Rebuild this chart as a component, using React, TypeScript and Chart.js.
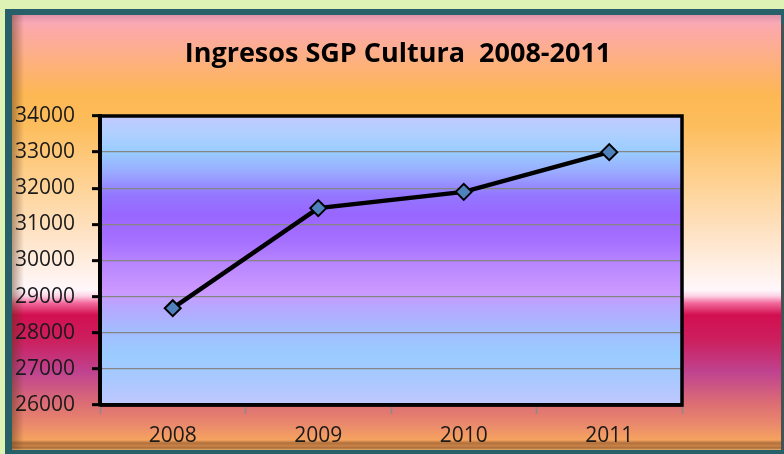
import React, { useEffect, useRef } from "react";
import { Chart, registerables } from "chart.js";

Chart.register(...registerables);

const TITLE = "Ingresos SGP Cultura  2008-2011";
const categories = ["2008", "2009", "2010", "2011"];
const ingresos = [28680, 31450, 31900, 33000];
const yMin = 26000;
const yMax = 34000;
const yStep = 1000;

const outerStops: [number, string][] = [
  [15, "#f7a9c4"], [30, "#fca9a8"], [60, "#fdb080"], [95, "#fdb853"],
  [125, "#fdbd5c"], [190, "#fed49a"], [235, "#fee3c6"], [275, "#fff2ec"],
  [290, "#fff7fb"], [296, "#fcd2e4"], [303, "#f36a9c"], [315, "#d20f50"],
  [340, "#cc1f5e"], [372, "#bf4390"], [405, "#dd6f73"], [425, "#ea8a6c"],
  [440, "#f6a35f"], [450, "#f5a560"],
];

const plotStops: [number, string][] = [
  [116, "#c3c9ff"], [135, "#aed0ff"], [152, "#99ccff"], [170, "#9aafff"],
  [195, "#9477ff"], [215, "#9966ff"], [240, "#a56fff"], [265, "#b987ff"],
  [292, "#cc99ff"], [305, "#b9a5ff"], [330, "#a4bcff"], [355, "#99ccff"],
  [380, "#aac8ff"], [405, "#c0c8ff"],
];

const bgPlugin = {
  id: "bgPlugin",
  beforeDraw(chart: any) {
    const ctx = chart.ctx as CanvasRenderingContext2D;
    const W = chart.width;
    const H = chart.height;
    ctx.save();
    ctx.fillStyle = "#dff2b5";
    ctx.fillRect(0, 0, W, H);
    ctx.fillStyle = "#28606a";
    ctx.fillRect(5, 9, W - 5, H - 9);
    const top = 15, bottom = 450, left = 12, right = 781;
    const g = ctx.createLinearGradient(0, top, 0, bottom);
    outerStops.forEach(([y, c]) => g.addColorStop((y - top) / (bottom - top), c));
    ctx.fillStyle = g;
    ctx.fillRect(left, top, right - left, bottom - top);
    // bevel left
    const gl = ctx.createLinearGradient(left, 0, left + 12, 0);
    gl.addColorStop(0, "rgba(90,50,20,0.45)");
    gl.addColorStop(1, "rgba(90,50,20,0)");
    ctx.fillStyle = gl;
    ctx.fillRect(left, top, 12, bottom - top);
    // bevel top
    const gt = ctx.createLinearGradient(0, top, 0, top + 8);
    gt.addColorStop(0, "rgba(150,80,80,0.25)");
    gt.addColorStop(1, "rgba(150,80,80,0)");
    ctx.fillStyle = gt;
    ctx.fillRect(left, top, right - left, 8);
    // bevel bottom
    const gb = ctx.createLinearGradient(0, 440, 0, bottom);
    gb.addColorStop(0, "rgba(120,70,30,0)");
    gb.addColorStop(0.3, "rgba(120,70,30,0.55)");
    gb.addColorStop(0.6, "rgba(120,70,30,0.35)");
    gb.addColorStop(0.8, "rgba(120,70,30,0.6)");
    gb.addColorStop(1, "rgba(220,180,120,0.6)");
    ctx.fillStyle = gb;
    ctx.fillRect(left, 440, right - left, bottom - 440);
    // right edge line
    ctx.fillStyle = "#5a4a48";
    ctx.fillRect(right, 24, 2, bottom - 24);
    // plot area
    const a = chart.chartArea;
    const gp = ctx.createLinearGradient(0, a.top, 0, a.bottom);
    plotStops.forEach(([y, c]) =>
      gp.addColorStop(Math.min(1, Math.max(0, (y - 116) / (405 - 116))), c)
    );
    ctx.fillStyle = gp;
    ctx.fillRect(a.left, a.top, a.right - a.left, a.bottom - a.top);
    ctx.restore();
  },
  beforeDatasetsDraw(chart: any) {
    const ctx = chart.ctx as CanvasRenderingContext2D;
    const a = chart.chartArea;
    ctx.save();
    ctx.strokeStyle = "#000";
    ctx.lineWidth = 3.5;
    ctx.beginPath();
    ctx.moveTo(a.left, a.top);
    ctx.lineTo(a.right, a.top);
    ctx.lineTo(a.right, a.bottom);
    ctx.lineTo(a.left, a.bottom);
    ctx.stroke();
    ctx.restore();
  },
};

export default function App() {
  const ref = useRef<HTMLCanvasElement | null>(null);
  useEffect(() => {
    if (!ref.current) return;
    const chart = new Chart(ref.current, {
      type: "line",
      data: {
        labels: categories,
        datasets: [
          {
            data: ingresos,
            borderColor: "#000",
            borderWidth: 4.5,
            pointStyle: "rectRot",
            pointRadius: 8,
            pointBackgroundColor: "#4f81bd",
            pointBorderColor: "#000",
            pointBorderWidth: 2,
            tension: 0,
          },
        ],
      },
      options: {
        animation: false,
        responsive: false,
        font: { family: "'Open Sans'" } as any,
        layout: { padding: { left: 12, right: 0, top: 15, bottom: 4 } },
        plugins: {
          legend: { display: false },
          tooltip: { enabled: false },
          title: {
            display: true,
            text: TITLE,
            color: "#000",
            font: { family: "'Open Sans'", weight: "bold", size: 27 },
            padding: { top: 23, bottom: 45.6 },
          },
        },
        scales: {
          x: {
            offset: true,
            grid: {
              display: true,
              drawOnChartArea: false,
              drawTicks: true,
              tickLength: 9,
              tickColor: "#8a8a8a",
              tickWidth: 1.5,
              offset: true,
            },
            border: { display: true, color: "#000", width: 3.5 },
            ticks: {
              color: "#1a1a1a",
              padding: 9,
              font: { family: "'Open Sans'", size: 21 },
              maxRotation: 0,
            },
            afterFit(scale: any) {
              scale.height = 45;
            },
          },
          y: {
            min: yMin,
            max: yMax,
            grid: {
              color: "#858585",
              lineWidth: 1.3,
              drawTicks: true,
              tickLength: 8,
              tickColor: "#000",
              tickWidth: 3,
            },
            border: { display: true, color: "#000", width: 4 },
            ticks: {
              stepSize: yStep,
              color: "#1a1a1a",
              padding: 17,
              font: { family: "'Open Sans'", size: 21 },
              callback: (v: any) => String(v),
            },
            afterFit(scale: any) {
              scale.width = 88;
            },
          },
          spacer: {
            type: "linear",
            position: "right",
            display: true,
            grid: { display: false, drawTicks: false },
            border: { display: false },
            ticks: { display: false },
            afterFit(scale: any) {
              scale.width = 102;
            },
          },
        },
      },
      plugins: [bgPlugin],
    });
    return () => chart.destroy();
  }, []);
  return (
    <div style={{ position: "fixed", left: 0, top: 0, width: 784, height: 454 }}>
      <canvas ref={ref} width={784} height={454} style={{ display: "block" }} />
    </div>
  );
}
